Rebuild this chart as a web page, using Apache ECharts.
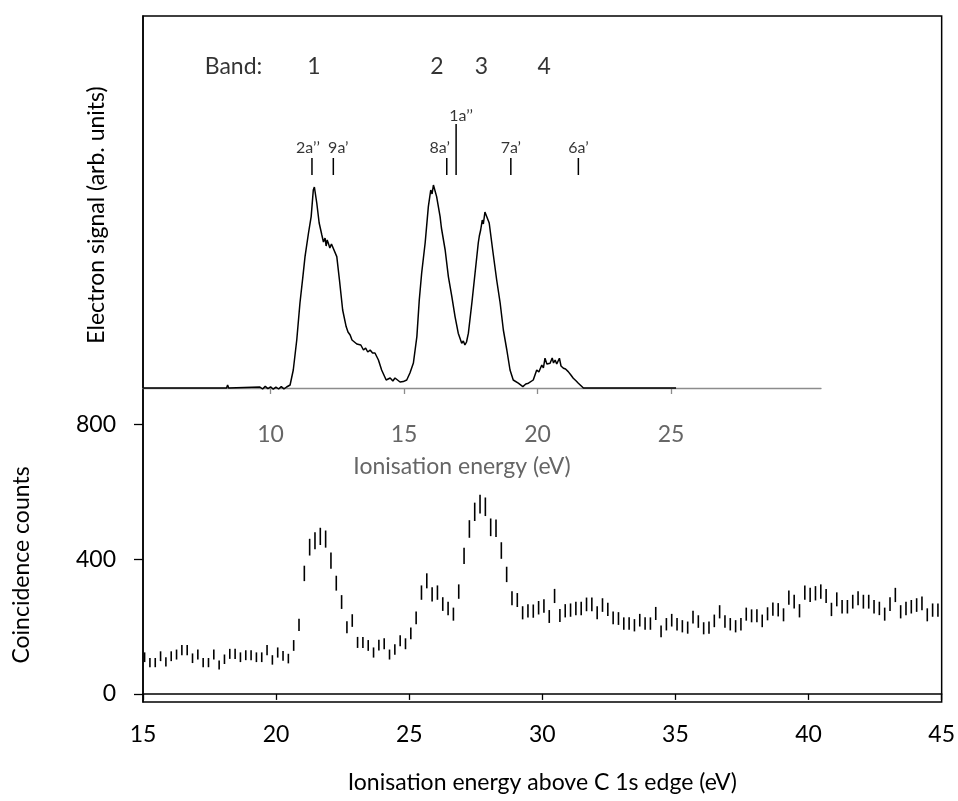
<!DOCTYPE html>
<html lang="en">
<head>
<meta charset="utf-8">
<title>Electron signal / coincidence counts</title>
<script src="https://cdn.jsdelivr.net/npm/echarts@6/dist/echarts.min.js"></script>
<style>
    html, body { margin: 0; padding: 0; background: #fff; }
    #main { width: 958px; height: 801px; }
</style>
</head>
<body>
<div id="main"></div>
<script>
// inset: photoelectron spectrum, [ionisation energy (eV), signal (arb. units)]
var spectrum = [
    [5.22, 0], [8.35, 0], [8.39, 1.5], [8.43, 0], [9.6, 0.5], [9.7, -0.5], [9.8, 0.8], [9.9, -0.3],
    [10.0, 0.6], [10.1, -0.6], [10.2, 0.4], [10.3, -0.5], [10.4, 0.7], [10.5, -0.4], [10.6, 0.5],
    [10.73, 1.5], [10.85, 9], [10.98, 24], [11.10, 42.5], [11.21, 55.7], [11.29, 65.7], [11.42, 77.5],
    [11.52, 85.7], [11.60, 99], [11.64, 100.5], [11.67, 100], [11.73, 92.5], [11.82, 82.5], [11.92, 76.5],
    [11.98, 73], [12.04, 75], [12.08, 71], [12.12, 74], [12.16, 72.5], [12.22, 70], [12.28, 72],
    [12.35, 71.5], [12.48, 65.7], [12.58, 54], [12.70, 39], [12.83, 30.7], [12.90, 28], [12.98, 26.5],
    [13.05, 24], [13.12, 24.5], [13.23, 22], [13.30, 21], [13.38, 21.5], [13.48, 19], [13.56, 20],
    [13.64, 18], [13.73, 19], [13.82, 17.5], [13.91, 17.5], [14.04, 14], [14.16, 9], [14.33, 4],
    [14.40, 5], [14.48, 5], [14.58, 3.5], [14.66, 5], [14.73, 4.5], [14.85, 3], [14.97, 3.2],
    [15.10, 4], [15.22, 7.5], [15.35, 12.5], [15.48, 25.7], [15.57, 44], [15.66, 57.5], [15.79, 72.5],
    [15.91, 90.7], [16.00, 99], [16.05, 97], [16.10, 101.5], [16.16, 102.5], [16.22, 95.7], [16.35, 85.7],
    [16.40, 80], [16.45, 79], [16.54, 69], [16.66, 55.7], [16.79, 45.7], [16.91, 35.7], [17.03, 27.4],
    [17.16, 22.4], [17.22, 23.5], [17.28, 21.5], [17.34, 23], [17.41, 27.4], [17.54, 42.5], [17.66, 57.5],
    [17.78, 72.5], [17.82, 76], [17.87, 79], [17.93, 84], [17.97, 82], [18.03, 88], [18.10, 89],
    [18.19, 82.5], [18.32, 69], [18.47, 54], [18.60, 42.5], [18.72, 29], [18.85, 19], [18.97, 9],
    [19.09, 4], [19.28, 2.4], [19.45, 0.7], [19.56, 2], [19.66, 2.4], [19.84, 4], [19.97, 9],
    [20.05, 8], [20.16, 11.5], [20.22, 10], [20.28, 14.9], [20.35, 12], [20.47, 12.4], [20.55, 15],
    [20.60, 12.5], [20.66, 14], [20.72, 12], [20.82, 14.9], [20.88, 11], [20.97, 9.9], [21.05, 9.5],
    [21.15, 8.2], [21.25, 6.5], [21.34, 4.9], [21.45, 3.5], [21.53, 2.4], [21.72, 0], [25.19, 0]
];

// orbital assignments (tick energies, eV)
var orbitalNames = ['2a\u2019\u2019', '9a\u2019', '8a\u2019', '1a\u2019\u2019', '7a\u2019', '6a\u2019'];
var orbitalEnergies = [11.55, 12.35, 16.6, 16.95, 19.0, 21.53];

// band numbers (eV)
var bandNames = ['Band:', '1', '2', '3', '4'];
var bandEnergies = [8.61, 11.62, 16.23, 17.9, 20.25];

// main plot: coincidence counts every 0.2 eV starting at 15.06 eV above the C 1s edge
var countStart = 15.06;
var countStep = 0.2;
var counts = [
    109, 93, 93, 112, 95, 112, 117, 130, 130, 106,
    117, 93, 93, 117, 86, 103, 119, 119, 109, 115,
    115, 109, 109, 130, 101, 123, 113, 105, 144, 205,
    358, 436, 455, 468, 460, 396, 329, 273, 198, 218,
    153, 153, 144, 123, 145, 149, 117, 132, 158, 149,
    180, 226, 301, 336, 296, 301, 267, 254, 237, 304,
    410, 490, 541, 564, 556, 495, 492, 426, 355, 284,
    279, 241, 247, 246, 256, 261, 230, 291, 233, 247,
    249, 254, 254, 266, 266, 241, 264, 251, 226, 224,
    209, 209, 204, 219, 209, 209, 239, 186, 207, 219,
    207, 201, 197, 228, 215, 195, 197, 217, 244, 215,
    207, 201, 207, 237, 232, 232, 217, 238, 252, 250,
    235, 286, 274, 247, 301, 294, 299, 304, 291, 251,
    281, 259, 259, 274, 284, 274, 274, 259, 254, 237,
    267, 294, 244, 254, 259, 264, 269, 235, 249, 249
];
var lowerTicks = [0, 400, 800];
var insetTicks = [10, 15, 20, 25];

var font = 'Lato';
var fs = 23;
var myChart = echarts.init(document.getElementById('main'));

// error bar: +/- (sqrt(N) + 4) counts
var barData = counts.map(function (v, i) {
    return [countStart + countStep * i, v, Math.sqrt(v) + 4];
});

var tickData = orbitalEnergies.map(function (e, i) {
    return [e, 106.5, i === 3 ? 132 : 115];
});
var labelShift = [-4, 5, -7, 5, 0, 0];
var orbitalLabels = orbitalNames.map(function (n, i) {
    return {
        name: n,
        value: [orbitalEnergies[i], i === 3 ? 136 : 120.3],
        label: {offset: [labelShift[i], 0]}
    };
});
var bandLabels = bandNames.map(function (n, i) {
    return {name: n, value: [bandEnergies[i], 160.5]};
});

function vline(params, api) {
    var a = api.coord([api.value(0), api.value(1)]);
    var b = api.coord([api.value(0), api.value(2)]);
    return {
        type: 'line',
        shape: {x1: a[0], y1: a[1], x2: b[0], y2: b[1]},
        style: {stroke: '#000', lineWidth: 1.5}
    };
}

function errBar(params, api) {
    var x = api.value(0), v = api.value(1), e = api.value(2);
    var a = api.coord([x, v - e]);
    var b = api.coord([x, v + e]);
    return {
        type: 'line',
        shape: {x1: a[0], y1: a[1], x2: b[0], y2: b[1]},
        style: {stroke: '#000', lineWidth: 1.6}
    };
}

var option = {
    animation: false,
    textStyle: {fontFamily: font},
    grid: [
        {left: 143, right: 137, top: 16, bottom: 394.3},
        {left: 143, right: 14, top: 16, bottom: 99, show: true, borderColor: '#000', borderWidth: 1.5}
    ],
    xAxis: [
        {
            gridIndex: 0, type: 'value', min: 5.22, max: 30.62,
            axisLine: {lineStyle: {color: '#8c8c8c', width: 1.3}},
            axisTick: {customValues: insetTicks, length: 6, lineStyle: {color: '#8c8c8c', width: 1.3}},
            axisLabel: {customValues: insetTicks, color: '#666', fontSize: fs, fontFamily: font, margin: 16},
            splitLine: {show: false}
        },
        {
            gridIndex: 1, type: 'value', min: 15, max: 45, interval: 5,
            axisLine: {lineStyle: {color: '#000', width: 1.5}},
            axisTick: {length: 6, lineStyle: {color: '#000', width: 1.3}},
            axisLabel: {color: '#000', fontSize: fs, fontFamily: font, margin: 21},
            splitLine: {show: false},
            name: 'Ionisation energy above C 1s edge (eV)',
            nameLocation: 'middle', nameGap: 69,
            nameTextStyle: {color: '#000', fontSize: fs, fontFamily: font}
        }
    ],
    yAxis: [
        {gridIndex: 0, type: 'value', min: -9.35, max: 186, show: false},
        {
            gridIndex: 1, type: 'value', min: -24, max: 2014,
            axisLine: {show: true, lineStyle: {color: '#000', width: 1.5}},
            axisTick: {show: true, customValues: lowerTicks, length: 9, lineStyle: {color: '#000', width: 1.3}},
            axisLabel: {customValues: lowerTicks, color: '#000', fontSize: fs, fontFamily: font, margin: 27,
                verticalAlign: 'middle', lineHeight: 23, padding: [7, 0, 0, 0]},
            splitLine: {show: false}
        }
    ],
    graphic: [
        {
            type: 'text', x: 22, y: 565, rotation: Math.PI / 2,
            style: {text: 'Coincidence counts', fontSize: fs, fontFamily: font, fill: '#000',
                align: 'center', verticalAlign: 'middle'}
        },
        {
            type: 'text', x: 97, y: 215, rotation: Math.PI / 2,
            style: {text: 'Electron signal (arb. units)', fontSize: fs, fontFamily: font, fill: '#000',
                align: 'center', verticalAlign: 'middle'}
        },
        {
            type: 'text', x: 462, y: 467,
            style: {text: 'Ionisation energy (eV)', fontSize: fs, fontFamily: font, fill: '#666',
                align: 'center', verticalAlign: 'middle'}
        }
    ],
    series: [
        {
            type: 'line', xAxisIndex: 0, yAxisIndex: 0, data: spectrum,
            showSymbol: false, lineStyle: {color: '#000', width: 1.5}
        },
        {
            type: 'custom', xAxisIndex: 0, yAxisIndex: 0, data: tickData,
            renderItem: vline
        },
        {
            type: 'scatter', xAxisIndex: 0, yAxisIndex: 0, data: orbitalLabels,
            symbolSize: 1, itemStyle: {color: 'rgba(0,0,0,0)'},
            label: {show: true, position: 'inside', formatter: '{b}', color: '#000', fontSize: 16, fontFamily: font}
        },
        {
            type: 'scatter', xAxisIndex: 0, yAxisIndex: 0, data: bandLabels,
            symbolSize: 1, itemStyle: {color: 'rgba(0,0,0,0)'},
            label: {show: true, position: 'inside', formatter: '{b}', color: '#000', fontSize: fs, fontFamily: font}
        },
        {
            type: 'custom', xAxisIndex: 1, yAxisIndex: 1, data: barData,
            renderItem: errBar
        }
    ]
};

myChart.setOption(option);
</script>
</body>
</html>
